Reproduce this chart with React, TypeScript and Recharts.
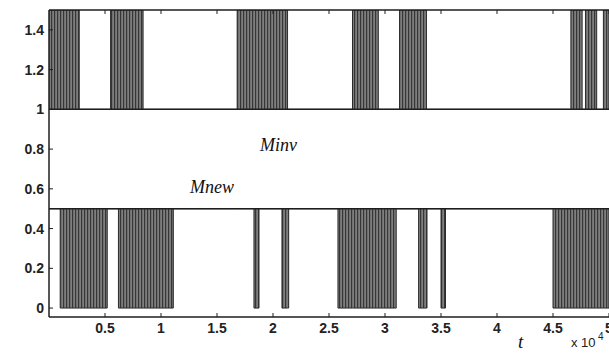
import React from 'react';
import { ComposedChart, Area, XAxis, YAxis, ReferenceLine } from 'recharts';

// time axis in units of 10^4
const xTicks = [0.5, 1, 1.5, 2, 2.5, 3, 3.5, 4, 4.5, 5];
const yTicks = [0, 0.2, 0.4, 0.6, 0.8, 1, 1.2, 1.4];

// switching bursts [start, end] (x 10^4)
const minvBursts: number[][] = [
  [0, 0.27], [0.55, 0.84], [1.68, 2.13], [2.71, 2.94], [3.13, 3.37],
  [4.66, 4.76], [4.79, 4.89], [4.95, 5],
];
const mnewBursts: number[][] = [
  [0.1, 0.52], [0.62, 1.11], [1.83, 1.875], [2.08, 2.14], [2.58, 3.1],
  [3.3, 3.375], [3.5, 3.54], [4.5, 5],
];
// [idle level, active level]
const minvLevels = [1, 1.5];
const mnewLevels = [0.5, 0];
const yMax = 1.5;

const inside = (b: number[][], t: number) => b.some(([s, e]) => t >= s && t < e);
const times = Array.from(new Set([0, 5, ...minvBursts.flat(), ...mnewBursts.flat()])).sort((a, b) => a - b);
const data = times.map((t) => ({
  t,
  minv: inside(minvBursts, t) ? minvLevels[1] : minvLevels[0],
  mnew: inside(mnewBursts, t) ? mnewLevels[1] : mnewLevels[0],
}));

const INK = '#1e1e1e';
const FONT = '"Liberation Sans", Arial, sans-serif';

const XTick = (props: any) => {
  const { x, y, payload } = props;
  return (
    <g>
      <line x1={x} x2={x} y1={y} y2={y - 4} stroke={INK} strokeWidth={1} />
      <text x={x} y={y + 16} textAnchor="middle" fontFamily={FONT} fontSize={14} fontWeight={700} fill="#222">
        {String(payload.value)}
      </text>
    </g>
  );
};

const TopTick = (props: any) => {
  const { x, y } = props;
  return <line x1={x} x2={x} y1={y} y2={y + 4} stroke={INK} strokeWidth={1} />;
};

const YTick = (props: any) => {
  const { x, y, payload } = props;
  return (
    <g>
      <line x1={x} x2={x + 4} y1={y} y2={y} stroke={INK} strokeWidth={1} />
      <text x={x - 5} y={y + 5} textAnchor="end" fontFamily={FONT} fontSize={14} fontWeight={700} fill="#222">
        {String(payload.value)}
      </text>
    </g>
  );
};

export default function App() {
  return (
    <div style={{ position: 'absolute', left: 0, top: 0, width: 609, height: 354, background: '#fff' }}>
      <svg width={0} height={0} style={{ position: 'absolute' }}>
        <defs>
          <pattern id="stripes" patternUnits="userSpaceOnUse" width={3} height={10}>
            <rect x={0} y={0} width={3} height={10} fill="#7e7e7e" />
            <rect x={0} y={0} width={1.2} height={10} fill="#363636" />
          </pattern>
        </defs>
      </svg>
      <ComposedChart width={609} height={354} data={data} margin={{ top: 9, right: 0, left: 0, bottom: 0 }}>
        <XAxis
          dataKey="t"
          type="number"
          domain={[0, 5]}
          ticks={xTicks}
          height={37}
          tickSize={0}
          tickMargin={0}
          tickLine={false}
          tick={<XTick />}
          axisLine={{ stroke: INK, strokeWidth: 1.5 }}
          allowDataOverflow
          interval={0}
        />
        <XAxis
          xAxisId="top"
          orientation="top"
          dataKey="t"
          type="number"
          domain={[0, 5]}
          ticks={xTicks}
          height={1}
          tickSize={0}
          tickMargin={0}
          tickLine={false}
          tick={<TopTick />}
          axisLine={false}
          allowDataOverflow
          interval={0}
        />
        <YAxis
          type="number"
          domain={[-0.045, yMax]}
          ticks={yTicks}
          width={49}
          tickSize={0}
          tickMargin={0}
          tickLine={false}
          tick={<YTick />}
          axisLine={{ stroke: INK, strokeWidth: 1.5 }}
          allowDataOverflow
          interval={0}
        />
        <Area
          type="stepAfter"
          dataKey="minv"
          baseValue={minvLevels[0]}
          stroke="#2a2a2a"
          strokeWidth={1}
          fill="url(#stripes)"
          fillOpacity={1}
          dot={false}
          activeDot={false}
          isAnimationActive={false}
        />
        <Area
          type="stepAfter"
          dataKey="mnew"
          baseValue={mnewLevels[0]}
          stroke="#2a2a2a"
          strokeWidth={1}
          fill="url(#stripes)"
          fillOpacity={1}
          dot={false}
          activeDot={false}
          isAnimationActive={false}
        />
        <ReferenceLine y={yMax} stroke={INK} strokeWidth={1.5} />
        <ReferenceLine y={minvLevels[0]} stroke={INK} strokeWidth={1.5} />
        <ReferenceLine y={mnewLevels[0]} stroke={INK} strokeWidth={1.5} />
      </ComposedChart>
      <svg width={609} height={354} style={{ position: 'absolute', left: 0, top: 0, pointerEvents: 'none' }}>
        <text x={260} y={151} fontFamily='"Liberation Serif", "Times New Roman", serif' fontStyle="italic" fontSize={18} fill="#111">Minv</text>
        <text x={190} y={193} fontFamily='"Liberation Serif", "Times New Roman", serif' fontStyle="italic" fontSize={18} fill="#111">Mnew</text>
        <text x={518} y={348} fontFamily='"Liberation Serif", "Times New Roman", serif' fontStyle="italic" fontSize={19} fill="#111">t</text>
        <text x={571} y={347} fontFamily={FONT} fontSize={13} fill="#222">x 10</text>
        <text x={598} y={340} fontFamily={FONT} fontSize={10} fill="#222">4</text>
      </svg>
    </div>
  );
}
